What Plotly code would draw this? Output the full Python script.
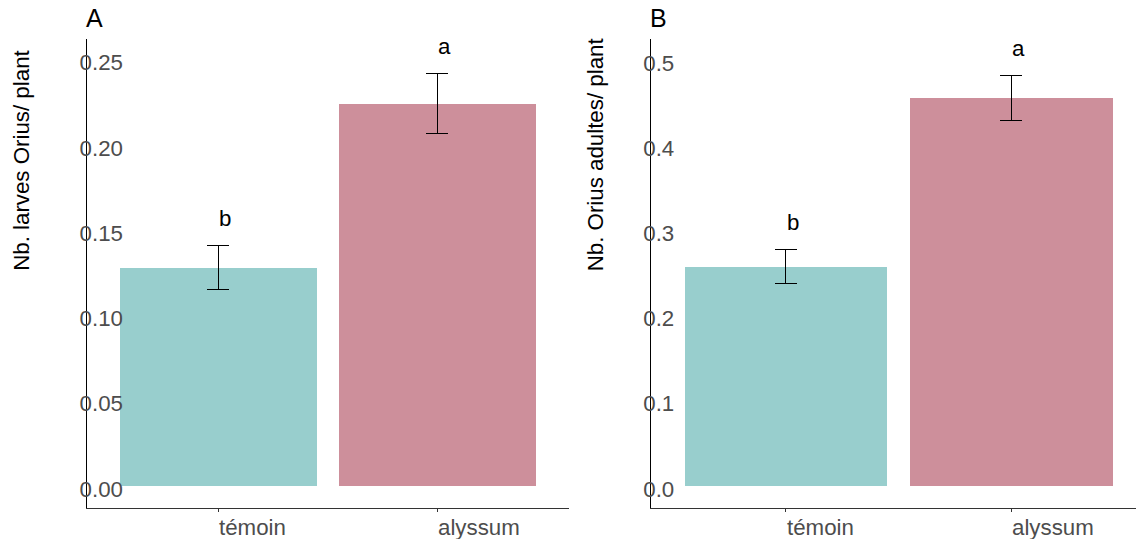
import plotly.graph_objects as go

# Treatments and summary statistics (mean ± standard error)
categories = ["témoin", "alyssum"]
bar_colors = ["#98CECD", "#CD8F9B"]

larvae_mean = [0.128, 0.224]
larvae_se = [0.0128, 0.0176]
larvae_letters = ["b", "a"]

adults_mean = [0.257, 0.455]
adults_se = [0.020, 0.026]
adults_letters = ["b", "a"]

larvae_ticks = [0.00, 0.05, 0.10, 0.15, 0.20, 0.25]
adults_ticks = [0.0, 0.1, 0.2, 0.3, 0.4, 0.5]

FONT = "Liberation Sans, Arial, sans-serif"
TICK_GREY = "#4D4D4D"
FS = 22.3
W, H = 1136, 539

fig = go.Figure()

panels = [
    dict(tag="A", title="Nb. larves Orius/ plant", mean=larvae_mean, se=larvae_se,
         letters=larvae_letters, ticks=larvae_ticks, fmt=".2f",
         yrange=[-0.0129, 0.2621], xdom=[87 / W, 568.5 / W], xrange=[-0.6, 1.6],
         xa="x", ya="y", title_x=22),
    dict(tag="B", title="Nb. Orius adultes/ plant", mean=adults_mean, se=adults_se,
         letters=adults_letters, ticks=adults_ticks, fmt=".1f",
         yrange=[-0.0258, 0.5243], xdom=[650.7 / W, 1.0], xrange=[-0.6, 1.555],
         xa="x2", ya="y2", title_x=595),
]

ydom = [(H - 507.7) / H, (H - 39) / H]

for i, p in enumerate(panels):
    fig.add_trace(go.Bar(
        x=categories, y=p["mean"], width=0.9,
        marker=dict(color=bar_colors, line=dict(width=0)),
        error_y=dict(type="data", array=p["se"], color="black", thickness=1, width=11),
        xaxis=p["xa"], yaxis=p["ya"], showlegend=False, hoverinfo="skip",
    ))

    suffix = "" if i == 0 else str(i + 1)
    fig.update_layout(**{
        "xaxis" + suffix: dict(
            domain=p["xdom"], type="category", categoryorder="array",
            categoryarray=categories, range=p["xrange"],
            showline=True, linecolor="#333333", linewidth=1,
            ticks="outside", ticklen=3, tickcolor="#333333", tickwidth=1,
            showticklabels=False, showgrid=False, zeroline=False,
            anchor=p["ya"],
        ),
        "yaxis" + suffix: dict(
            domain=ydom, range=p["yrange"], tickvals=p["ticks"], tickformat=p["fmt"],
            showline=True, linecolor="black", linewidth=1, ticks="",
            ticklabelposition="inside", ticklabelstandoff=-6, ticklabelshift=3,
            tickfont=dict(family=FONT, size=FS, color=TICK_GREY),
            showgrid=False, zeroline=False, anchor=p["xa"],
        ),
    })

    xd = p["xa"] + " domain"
    yd = p["ya"] + " domain"

    # category labels, left-aligned at each tick
    for c in categories:
        fig.add_annotation(x=c, y=0, xref=p["xa"], yref=yd, text=c, showarrow=False,
                           xanchor="left", yanchor="top", yshift=-5, xshift=-1,
                           font=dict(family=FONT, size=FS, color=TICK_GREY))

    # significance letters above the error bars
    for c, m, s, letter in zip(categories, p["mean"], p["se"], p["letters"]):
        fig.add_annotation(x=c, y=m + s, xref=p["xa"], yref=p["ya"], text=letter,
                           showarrow=False, xanchor="left", yanchor="bottom",
                           yshift=13, xshift=-1,
                           font=dict(family=FONT, size=FS, color="black"))

    # panel tag
    fig.add_annotation(x=0, y=1, xref=xd, yref="paper", text=p["tag"], showarrow=False,
                       xanchor="left", yanchor="top", yshift=-2, xshift=-3,
                       font=dict(family=FONT, size=25, color="black"))

    # y-axis title
    fig.add_annotation(x=p["title_x"] / W, y=0.5, xref="paper", yref=yd, text=p["title"],
                       showarrow=False, textangle=-90, xanchor="center", yanchor="bottom",
                       font=dict(family=FONT, size=FS, color="black"))

fig.update_layout(
    width=W, height=H, margin=dict(l=0, r=0, t=0, b=0),
    paper_bgcolor="white", plot_bgcolor="white", bargap=0,
    font=dict(family=FONT),
)

fig.write_html("out.html")
